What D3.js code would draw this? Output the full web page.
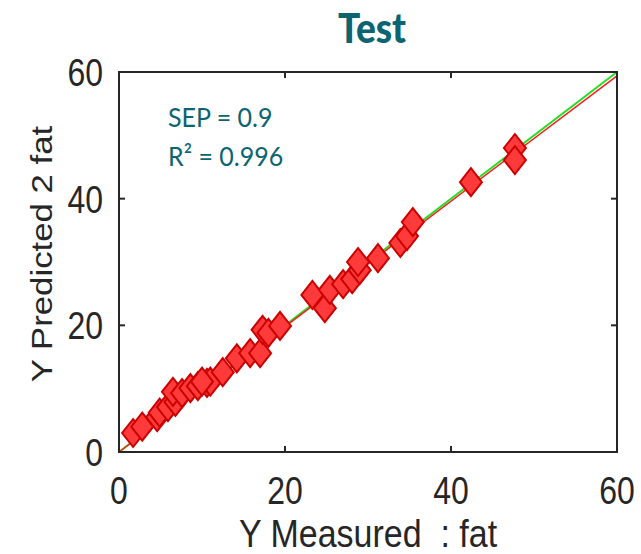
<!DOCTYPE html>
<html>
<head>
<meta charset="utf-8">
<script src="https://cdn.jsdelivr.net/npm/d3@7"></script>
<style>
  body { margin: 0; background: #fff; }
  svg { display: block; }
</style>
</head>
<body>
<svg id="chart" width="641" height="554"></svg>
<script>
// measured / predicted fat values (test set)
var measured  = [1.7, 2.8, 4.6, 4.9, 5.9, 6.8, 6.5, 7.6, 8.6, 9.5, 10.6, 11.0, 10.0, 12.5, 14.2, 15.8, 17.0, 17.3, 18.0, 19.4,
                 23.3, 24.8, 25.4, 27.0, 28.1, 29.0, 28.8, 31.2, 33.9, 34.7, 35.4, 42.4, 47.7, 47.7];
var predicted = [3.0, 4.0, 5.5, 6.2, 7.1, 7.9, 9.5, 9.3, 10.1, 10.4, 10.9, 11.1, 11.1, 12.6, 14.8, 15.6, 15.6, 19.3, 18.8, 19.9,
                 24.8, 22.7, 25.6, 26.5, 27.3, 28.7, 30.0, 30.6, 33.0, 34.1, 36.3, 42.6, 48.0, 46.1];
var tickValues = [0, 20, 40, 60];
var fitSlope = 0.99, fitIntercept = 0.0;
var statLines = ["SEP = 0.9", "R\u00b2 = 0.996"];

var svg = d3.select("#chart"),
    margin = {top: 72, right: 24, bottom: 102, left: 119},
    width = 641 - margin.left - margin.right,
    height = 554 - margin.top - margin.bottom,
    g = svg.append("g").attr("transform", "translate(" + margin.left + "," + margin.top + ")");

var x = d3.scaleLinear().domain([0, 60]).range([0, width]),
    y = d3.scaleLinear().domain([0, 60]).range([height, 0]);

var teal = "#0b6470", ink = "#262626";

// title
svg.append("text")
    .attr("transform", "translate(" + (margin.left + width / 2 + 4) + ",43) scale(1,1.12)")
    .attr("text-anchor", "middle")
    .attr("font-family", "Lato, 'Open Sans', sans-serif")
    .attr("font-weight", "900")
    .attr("font-size", 37)
    .attr("fill", teal)
    .text("Test");

// 1:1 line and fit line
g.append("line")
    .attr("x1", x(0)).attr("y1", y(0))
    .attr("x2", x(60)).attr("y2", y(60))
    .attr("stroke", "#22e022").attr("stroke-width", 2);

g.append("line")
    .attr("x1", x(0)).attr("y1", y(fitIntercept))
    .attr("x2", x(60)).attr("y2", y(fitIntercept + fitSlope * 60))
    .attr("stroke", "#ff1a1a").attr("stroke-width", 1.5);

// diamond markers
var dw = 11, dh = 14;
g.append("g")
    .selectAll("path")
    .data(measured.map(function(d, i) { return [d, predicted[i]]; }))
    .enter().append("path")
        .attr("d", "M0," + (-dh) + "L" + dw + ",0L0," + dh + "L" + (-dw) + ",0Z")
        .attr("transform", function(d) { return "translate(" + x(d[0]) + "," + y(d[1]) + ")"; })
        .attr("fill", "#ff3a3a")
        .attr("stroke", "#cc0000")
        .attr("stroke-width", 2);

// frame
g.append("rect")
    .attr("width", width).attr("height", height)
    .attr("fill", "none").attr("stroke", ink).attr("stroke-width", 2);

// inward ticks on all four sides
var inner = [20, 40];
inner.forEach(function(v) {
    g.append("line").attr("x1", x(v)).attr("x2", x(v)).attr("y1", height).attr("y2", height - 6).attr("stroke", ink).attr("stroke-width", 2);
    g.append("line").attr("x1", x(v)).attr("x2", x(v)).attr("y1", 0).attr("y2", 6).attr("stroke", ink).attr("stroke-width", 2);
    g.append("line").attr("x1", 0).attr("x2", 6).attr("y1", y(v)).attr("y2", y(v)).attr("stroke", ink).attr("stroke-width", 2);
    g.append("line").attr("x1", width).attr("x2", width - 6).attr("y1", y(v)).attr("y2", y(v)).attr("stroke", ink).attr("stroke-width", 2);
});

// tick labels
var tickFont = "'Liberation Sans', Arial, sans-serif";
g.append("g").selectAll("text")
    .data(tickValues)
    .enter().append("text")
        .attr("transform", function(d) { return "translate(" + x(d) + "," + (height + 52) + ") scale(1,1.2)"; })
        .attr("text-anchor", "middle")
        .attr("font-family", tickFont)
        .attr("font-size", 32)
        .attr("fill", ink)
        .text(function(d) { return d; });

g.append("g").selectAll("text")
    .data(tickValues)
    .enter().append("text")
        .attr("transform", function(d) { return "translate(-16," + (y(d) + 14) + ") scale(1,1.2)"; })
        .attr("text-anchor", "end")
        .attr("font-family", tickFont)
        .attr("font-size", 32)
        .attr("fill", ink)
        .text(function(d) { return d; });

// axis titles
svg.append("text")
    .attr("transform", "translate(" + (margin.left + width / 2) + ",547) scale(1,1.12)")
    .attr("text-anchor", "middle")
    .attr("font-family", tickFont)
    .attr("font-size", 34)
    .attr("fill", ink)
    .attr("xml:space", "preserve")
    .text("Y Measured  : fat");

svg.append("text")
    .attr("transform", "translate(52," + (margin.top + height / 2 - 8) + ") rotate(-90) scale(1.2,1)")
    .attr("text-anchor", "middle")
    .attr("font-family", tickFont)
    .attr("font-size", 29)
    .attr("fill", ink)
    .text("Y Predicted 2 fat");

// statistics
g.append("g").selectAll("text")
    .data(statLines)
    .enter().append("text")
        .attr("transform", function(d, i) { return "translate(49," + (55 + i * 39) + ") scale(1,1.1)"; })
        .attr("font-family", "Lato, 'Open Sans', sans-serif")
        .attr("font-size", 25)
        .attr("fill", teal)
        .text(function(d) { return d; });
</script>
</body>
</html>
